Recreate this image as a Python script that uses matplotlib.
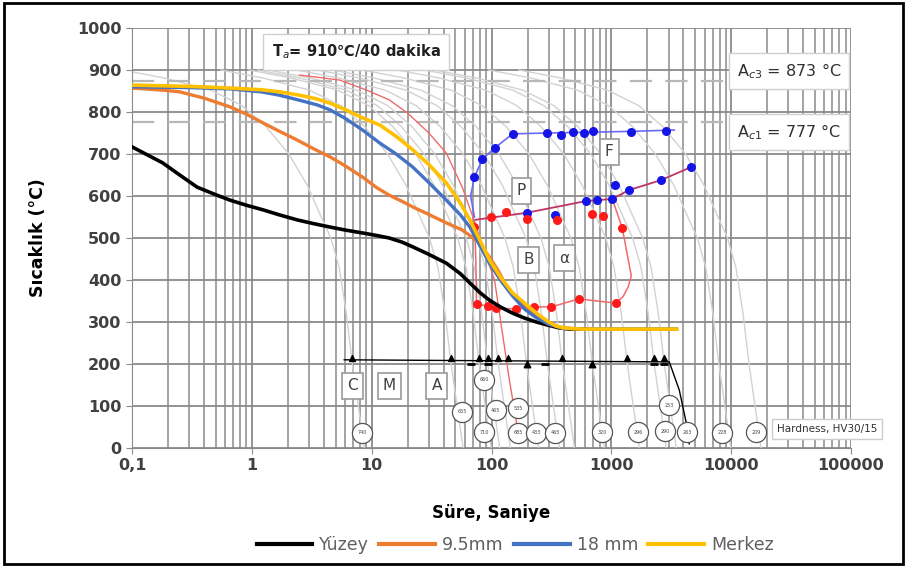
import numpy as np
import matplotlib.pyplot as plt

# cooling curves measured at four depths
t_yuzey = [0.1, 0.13, 0.18, 0.25, 0.35, 0.5, 0.66, 0.9, 1.24, 1.7, 2.4, 3.3, 4.5, 6, 8.4,
           11, 14, 18, 22, 30, 42, 55, 66, 80, 96, 120, 150, 190, 237, 300, 369, 450, 600]
T_yuzey = [717, 700, 679, 650, 621, 603, 590, 578, 567, 555, 543, 534, 526, 519, 512,
           506, 500, 490, 479, 461, 440, 415, 393, 370, 352, 335, 321, 309, 300, 292, 286, 283, 283]

t_95 = [0.1, 0.18, 0.25, 0.4, 0.66, 0.9, 1.24, 1.7, 2.4, 3.3, 4.5, 6, 8.4, 11, 14, 18, 22,
        30, 42, 57, 66, 78, 96, 115, 130, 160, 190, 237, 300, 400, 600, 3500]
T_95 = [857, 852, 848, 833, 812, 795, 774, 754, 733, 712, 693, 672, 645, 620, 602, 587, 574,
        556, 536, 519, 506, 490, 455, 420, 390, 355, 336, 312, 295, 285, 283, 283]

t_18 = [0.1, 0.3, 0.66, 1.2, 1.7, 2.5, 3.5, 4.5, 6, 8.4, 11.7, 16, 22, 30, 42, 55, 66, 80,
        96, 120, 150, 190, 237, 300, 400, 600, 3500]
T_18 = [860, 858, 855, 848, 840, 828, 817, 805, 785, 757, 726, 700, 669, 632, 590, 555, 526,
        482, 440, 398, 362, 330, 310, 295, 285, 283, 283]

t_merkez = [0.1, 0.3, 0.66, 1.2, 1.7, 2.5, 3.5, 4.5, 6, 8.4, 11.7, 16, 22, 30, 42, 55, 66,
            80, 96, 120, 150, 180, 207, 250, 300, 350, 400, 500, 600, 3500]
T_merkez = [864, 861, 857, 853, 848, 840, 831, 821, 806, 786, 769, 742, 710, 675, 631, 583,
            543, 495, 448, 405, 369, 350, 335, 316, 300, 290, 286, 284, 283, 283]

# CCT diagram: shape of a background cooling curve (decades relative to 200 °C crossing)
cct_dlog = [-1.92, -1.57, -1.18, -0.92, -0.72, -0.53, -0.375, -0.275, -0.18, -0.11, -0.05, 0, 0.05, 0.1]
cct_T = [900, 881, 852, 815, 765, 700, 625, 560, 500, 430, 320, 200, 100, 0]
cct_t200 = [6.9, 46, 79, 93, 114, 196, 293, 391, 695, 1359, 2280, 2766, 7900, 14100]

# critical cooling curve (red)
crit_t = [2.5, 3.7, 5.4, 9.1, 14, 20, 30, 42, 57, 70, 84, 106, 141, 171]
crit_T = [888, 882, 876, 852, 829, 797, 750, 702, 621, 550, 483, 400, 162, 19]

# ferrite start
fs_t = [72, 67, 72, 84, 106, 150, 293, 700, 1500, 3350]
fs_T = [550, 600, 645, 688, 714, 748, 750, 752, 754, 757]
fs_pts_t = [72, 84, 106, 150, 293, 383, 482, 596, 708, 1468, 2872]
fs_pts_T = [645, 688, 714, 748, 750, 745, 752, 750, 755, 752, 755]

# pearlite start
ps_t = [72, 196, 616, 1019, 1400, 2610, 4642]
ps_T = [543, 560, 588, 593, 614, 638, 669]
ps_pts_t = [196, 340, 616, 760, 1019, 1068, 1400, 2610, 4642]
ps_pts_T = [560, 555, 588, 590, 593, 626, 614, 638, 669]

# bainite field boundary
bf_t = [1019, 1234, 1380, 1468, 1380, 1250, 1090, 536, 316, 228, 160, 110, 93, 75, 74, 72]
bf_T = [593, 524, 450, 410, 383, 360, 345, 355, 336, 336, 331, 333, 338, 343, 450, 543]
bf_pts_t = [72, 99, 133, 197, 350, 685, 845, 1234, 75, 93, 110, 160, 228, 316, 536, 1090]
bf_pts_T = [526, 550, 562, 545, 543, 557, 552, 524, 343, 338, 333, 331, 336, 336, 355, 345]

# martensite start line
ms_t = [5.9, 3044, 3690, 4217, 4467]
ms_T = [210, 205, 138, 60, 10]
tri_up_t = [6.8, 46, 79, 93, 114, 136, 391, 1359, 2280, 2766]
tri_dn_t = [196, 695]
dash_t = [68, 93, 277, 2280, 2766]

# hardness values
hv_t = [8.3, 57, 87, 87, 108, 168, 168, 237, 341, 841, 1679, 2818, 3044, 4300, 8414, 16150]
hv_T = [36, 86, 162, 38, 90, 95, 36, 36, 36, 38, 38, 40, 102, 38, 36, 38]
hv_val = ['740', '655', '660', '710', '465', '535', '685', '433', '465',
          '320', '296', '290', '253', '263', '228', '209']

fig = plt.figure(figsize=(9.07, 5.67), dpi=100)
ax = fig.add_axes([132 / 907, 1 - 448 / 567, 719 / 907, 420 / 567])
ax.set_xscale('log')
ax.set_xlim(0.1, 100000)
ax.set_ylim(0, 1000)

# grid
ax.set_yticks(range(0, 1001, 100))
ax.set_xticks([0.1, 1, 10, 100, 1000, 10000, 100000])
ax.set_xticklabels(['0,1', '1', '10', '100', '1000', '10000', '100000'])
ax.grid(True, which='major', color='#8a8a8a', lw=1.3)
ax.grid(True, which='minor', axis='x', color='#8a8a8a', lw=1.1)
ax.tick_params(which='minor', length=0)
ax.tick_params(which='major', length=4, color='#8a8a8a', labelsize=11.5,
               labelcolor='#404040')
for lab in ax.get_xticklabels() + ax.get_yticklabels():
    lab.set_fontweight('bold')
for s in ax.spines.values():
    s.set_color('#8a8a8a')
ax.spines['top'].set_visible(False)
ax.spines['right'].set_visible(False)
ax.set_axisbelow(True)

# background cooling curves
for t0 in cct_t200:
    ax.plot([t0 * 10 ** d for d in cct_dlog], cct_T, color='#d2d2d2', lw=1, zorder=2)

# Ac3 / Ac1
ax.plot([0.1, 9000], [873, 873], color='#b8b8b8', lw=1.6, ls=(0, (10, 6)), zorder=2)
ax.plot([0.1, 9000], [777, 777], color='#b8b8b8', lw=1.6, ls=(0, (10, 6)), zorder=2)

ax.plot(crit_t, crit_T, color='#f06a6a', lw=1, zorder=3)
ax.plot(fs_t, fs_T, color='#6a6af5', lw=1.2, zorder=3)
ax.plot(ps_t, ps_T, color='#c03468', lw=1.3, zorder=3)
ax.plot(bf_t, bf_T, color='#f06a6a', lw=1.1, zorder=3)
ax.scatter(fs_pts_t, fs_pts_T, s=30, color='#1414e6', zorder=5)
ax.scatter(ps_pts_t, ps_pts_T, s=30, color='#1414e6', zorder=5)
ax.scatter(bf_pts_t, bf_pts_T, s=30, color='#ff1a1a', zorder=5)

ax.plot(ms_t, ms_T, color='black', lw=1, zorder=3)
ax.scatter(tri_up_t, [214] * len(tri_up_t), marker='^', s=18, color='black', zorder=4)
ax.scatter(tri_dn_t, [200] * len(tri_dn_t), marker='^', s=22, color='black', zorder=4)
ax.scatter(dash_t, [200] * len(dash_t), marker='_', s=40, lw=2, color='black', zorder=4)

# hardness circles
ax.scatter(hv_t, hv_T, s=210, facecolor='white', edgecolor='#555555', lw=0.9, zorder=6)
for t, T, v in zip(hv_t, hv_T, hv_val):
    ax.text(t, T, v, fontsize=3.5, ha='center', va='center', color='#444444', zorder=7)

# measured curves
ax.plot(t_yuzey, T_yuzey, color='black', lw=2.6, zorder=8, label='Yüzey')
ax.plot(t_95, T_95, color='#ed7d31', lw=2.4, zorder=8, label='9.5mm')
ax.plot(t_18, T_18, color='#4472c4', lw=2.4, zorder=8, label='18 mm')
ax.plot(t_merkez, T_merkez, color='#ffc000', lw=2.6, zorder=9, label='Merkez')

box = dict(boxstyle='square,pad=0.35', fc='white', ec='#9a9a9a', lw=1.2)
for t, T, s in [(962, 705, 'F'), (178, 612, 'P'), (203, 448, 'B'), (406, 452, 'α'),
                (6.95, 148, 'C'), (14.1, 148, 'M'), (34.8, 148, 'A')]:
    ax.text(t, T, s, fontsize=11, ha='center', va='center', color='#404040',
            bbox=box, zorder=10)

box2 = dict(boxstyle='square,pad=0.5', fc='white', ec='#d0d0d0', lw=1)
ax.text(7.4, 943, 'T$_a$= 910℃/40 dakika', fontsize=10.5, fontweight='bold', ha='center',
        va='center', color='#202020', bbox=dict(boxstyle='square,pad=0.6', fc='white',
                                                 ec='#d0d0d0', lw=1), zorder=10)
ax.text(30400, 898, 'A$_{c3}$ = 873 °C', fontsize=11.5, ha='center', va='center',
        color='#303030', bbox=box2, zorder=10)
ax.text(30400, 752, 'A$_{c1}$ = 777 °C', fontsize=11.5, ha='center', va='center',
        color='#303030', bbox=box2, zorder=10)
ax.text(63000, 45, 'Hardness, HV30/15', fontsize=7.5, ha='center', va='center',
        color='#303030', bbox=dict(boxstyle='square,pad=0.5', fc='white', ec='#cccccc',
                                   lw=1), zorder=10, clip_on=False)

ax.set_xlabel('Süre, Saniye', fontsize=12, fontweight='bold', labelpad=22)
ax.set_ylabel('Sıcaklık (°C)', fontsize=12.5, fontweight='bold', labelpad=22)

leg = fig.legend(loc='center', bbox_to_anchor=(0.568, 0.039), ncol=4, frameon=False,
                 handlelength=3.2, columnspacing=0.6, handletextpad=0.4, fontsize=12.5)
for txt in leg.get_texts():
    txt.set_color('#606060')
for ln in leg.get_lines():
    ln.set_linewidth(3)

# outer frame
fig.patches.append(plt.Rectangle((4 / 907, 3 / 567), 899 / 907, 561 / 567, fill=False,
                                 ec='black', lw=2, transform=fig.transFigure))

fig.savefig('out.png', dpi=100)
